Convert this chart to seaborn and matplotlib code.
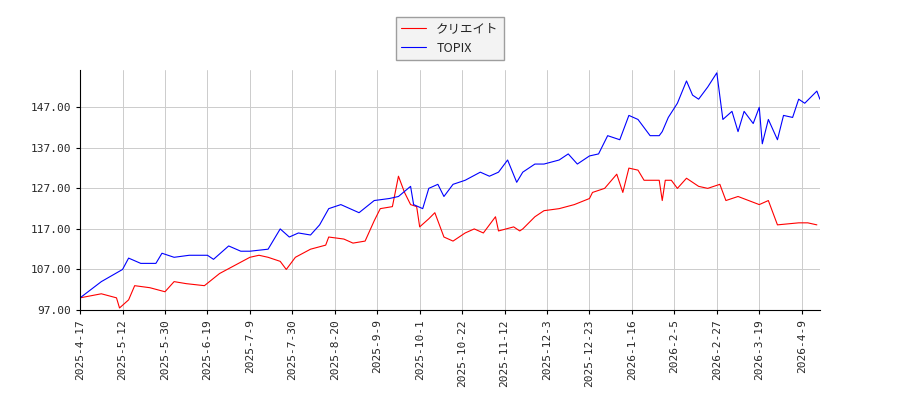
import matplotlib
matplotlib.use("Agg")
import matplotlib.pyplot as plt
import seaborn as sns
import pandas as pd

sns.set_style("white")
plt.rcParams['font.family'] = ['Noto Sans CJK JP', 'DejaVu Sans']

tick_labels = ["2025-4-17","2025-5-12","2025-5-30","2025-6-19","2025-7-9","2025-7-30",
               "2025-8-20","2025-9-9","2025-10-1","2025-10-22","2025-11-12","2025-12-3",
               "2025-12-23","2026-1-16","2026-2-5","2026-2-27","2026-3-19","2026-4-9"]

topix_day = [0,7,14,16,20,25,27,31,36,42,44,49,53,56,62,66,69,72,76,79,82,86,89,92,97,102,105,109,110,113,115,118,120,123,127,132,135,138,141,144,146,150,153,158,161,164,168,171,174,178,181,184,188,191,192,194,197,200,202,204,207,210,212,215,217,219,222,224,225,227,230,232,235,237,239,243,244]
topix_val = [100,104,107,109.8,108.5,108.5,111,110,110.5,110.5,109.5,112.8,111.5,111.5,112,117,115,116,115.5,118,122,123,122,121,124,124.5,125,127.5,123,122,127,128,125,128,129,131,130,131,134,128.5,131,133,133,134,135.5,133,135,135.5,140,139,145,144,140,140,141,144.5,148,153.5,150,149,152,155.5,144,146,141,146,143,147,138,144,139,145,144.5,149,148,151,149]
crea_day = [0,7,12,13,16,18,23,28,31,35,41,46,51,56,59,62,66,68,71,76,81,82,87,90,94,97,99,103,105,107,109,111,112,115,117,120,123,127,130,133,137,138,143,145,146,150,153,158,163,168,169,173,177,179,181,184,186,191,192,193,195,197,200,204,207,211,213,217,224,227,230,237,240,243]
crea_val = [100,101,100,97.5,99.5,103,102.5,101.5,104,103.5,103,106,108,110,110.5,110,109,107,110,112,113,115,114.5,113.5,114,119,122,122.5,130,126,123,122.5,117.5,119.5,121,115,114,116,117,116,120,116.5,117.5,116.5,117,120,121.5,122,123,124.5,126,127,130.5,126,132,131.5,129,129,124,129,129,127,129.5,127.5,127,128,124,125,123,124,118,118.5,118.5,118]

df = pd.concat([
    pd.DataFrame({"day": crea_day, "value": crea_val, "name": "クリエイト"}),
    pd.DataFrame({"day": topix_day, "value": topix_val, "name": "TOPIX"}),
])

fig = plt.figure(figsize=(9, 4), dpi=100)
ax = fig.add_axes([0.089, 0.225, 0.822, 0.6])
sns.lineplot(data=df, x="day", y="value", hue="name", palette={"クリエイト": "red", "TOPIX": "blue"},
             linewidth=0.8, ax=ax, legend=True)
ax.set_xlim(0, 244)
ax.set_ylim(97, 156.2)
ax.set_xticks([i * 14 for i in range(len(tick_labels))])
ax.set_xticklabels(tick_labels, rotation=90, fontsize=8, family="DejaVu Sans Mono")
yt = [97, 107, 117, 127, 137, 147]
ax.set_yticks(yt)
ax.set_yticklabels([f"{v:.2f}" for v in yt], fontsize=8, family="DejaVu Sans Mono")
ax.grid(True, color="#cccccc", linewidth=0.7)
ax.set_xlabel("")
ax.set_ylabel("")
for s in ["top", "right"]:
    ax.spines[s].set_visible(False)
for s in ["left", "bottom"]:
    ax.spines[s].set_color("black")
ax.tick_params(axis="both", length=3, color="black", left=True, bottom=True)
leg = ax.legend(loc="upper center", bbox_to_anchor=(0.5, 1.245), fontsize=9, frameon=True,
                fancybox=False, edgecolor="#888888")
leg.get_frame().set_facecolor("#f0f0f0")
fig.savefig("out.png", dpi=100)
